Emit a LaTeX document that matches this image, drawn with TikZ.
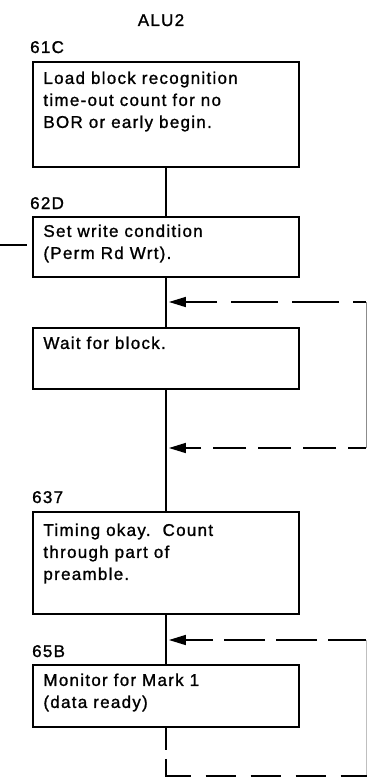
\documentclass[tikz,border=0pt]{standalone}
\usepackage{fontspec}
\setmainfont{Liberation Sans}[LetterSpace=7.5,FakeBold=1.2]
\usetikzlibrary{arrows.meta}
\newcommand{\btext}[3]{\parbox[c][#1][t]{245pt}{\raggedright\rule{0pt}{#2}#3}}
\begin{document}
\begin{tikzpicture}[x=1pt,y=-1pt,
  every node/.style={font=\fontsize{17}{22}\selectfont},
  flowbox/.style={draw, line width=1.8pt, inner xsep=10.5pt, inner ysep=0pt, anchor=north west},
  lbl/.style={anchor=base west, inner sep=0pt},
  flow/.style={line width=1.8pt},
  fb/.style={line width=1.6pt, -{Triangle[length=17pt,width=10pt]}, shorten >=3pt},
  rim/.style={line width=0.8pt, black!45}]
\useasboundingbox (0,0) rectangle (367,778);
\node[anchor=base, inner sep=0pt] (title) at (161,26) {ALU2};
\node[flowbox] (b1) at (32,61) {\btext{105pt}{22pt}{Load block recognition\\time-out count for no\\BOR or early begin.}};
\node[flowbox] (b2) at (32,216) {\btext{60pt}{20pt}{Set write condition\\(Perm Rd Wrt).}};
\node[flowbox] (b3) at (32,327) {\btext{61pt}{21pt}{Wait for block.}};
\node[flowbox] (b4) at (32,511) {\btext{102pt}{24pt}{Timing okay.\ \ Count\\through part of\\preamble.}};
\node[flowbox] (b5) at (32,664) {\btext{62pt}{21pt}{Monitor for Mark 1\\(data ready)}};
\node[lbl] (l1) at ([shift={(-2pt,8pt)}]b1.north west) {61C};
\node[lbl] (l2) at ([shift={(-2pt,7pt)}]b2.north west) {62D};
\node[lbl] (l4) at ([shift={(0pt,8pt)}]b4.north west) {637};
\node[lbl] (l5) at ([shift={(0pt,7pt)}]b5.north west) {65B};
\draw[flow] (b1.south) -- (b2.north);
\draw[flow] (b2.south) -- (b3.north);
\draw[flow] (b3.south) -- (b4.north);
\draw[flow] (b4.south) -- (b5.north);
\coordinate (w) at (0,245);
\draw[flow, shorten >=5pt] (w) -- (w -| b2.west);
\coordinate (r1) at (366,302);
\coordinate (r2) at (366,448);
\coordinate (r3) at (366,640);
\coordinate (bot) at (0,776);
\draw[fb, dash pattern=on 47pt off 14pt, dash phase=34pt] (r1) -- (b2.south |- r1);
\draw[fb, dash pattern=on 33pt off 12pt, dash phase=15pt] (r2) -- (b2.south |- r2);
\draw[fb, dash pattern=on 41pt off 11pt, dash phase=3pt] (r3) -- (b2.south |- r3);
\draw[rim] (r1) -- (r2);
\draw[rim, black!25] (r3) -- (r3 |- bot);
\draw[flow, dash pattern=on 22pt off 9pt on 42pt off 15pt on 30pt off 15pt on 30pt off 15pt on 30pt off 15pt on 30pt off 15pt]
  (b5.south) -- (b5.south |- bot) -- (367,776);
\end{tikzpicture}
\end{document}
